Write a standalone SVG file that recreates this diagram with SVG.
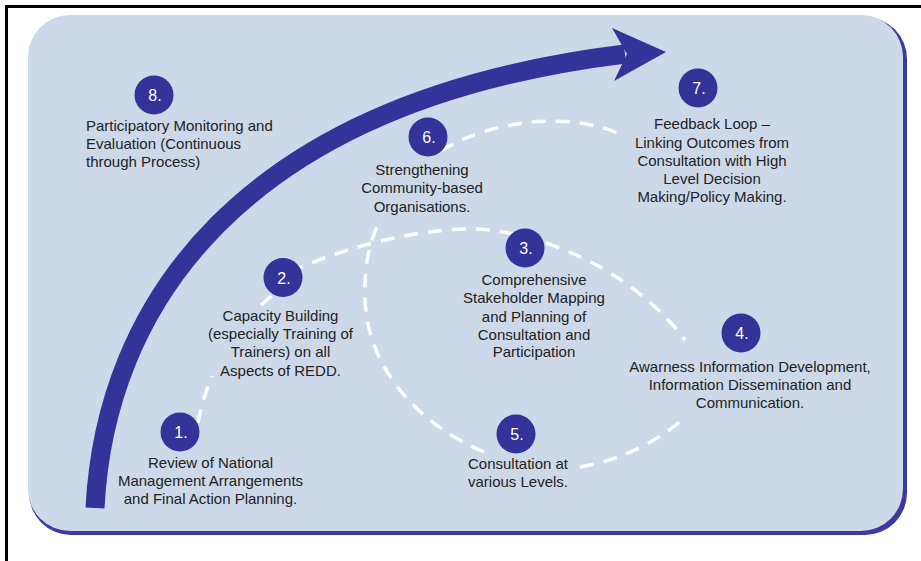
<svg xmlns="http://www.w3.org/2000/svg" width="921" height="561" viewBox="0 0 921 561">
  <style>
    .lbl { font-family: "Liberation Sans", Arial, sans-serif; font-size: 15px; fill: #222222; }
    .ctr { text-anchor: middle; }
    .num { font-family: "Liberation Sans", Arial, sans-serif; font-size: 16px; fill: #ffffff; text-anchor: middle; }
    .dot { fill: #333399; }
    .dash { fill: none; stroke: #ffffff; stroke-width: 3.5; stroke-dasharray: 14 10; }
  </style>
  <rect width="921" height="561" fill="#ffffff"/>
  <path d="M6.5,561 V6.5 H921" fill="none" stroke="#000000" stroke-width="3"/>
  <g id="panel">
    <rect x="29" y="17" width="878" height="518" rx="42" fill="#3a3aa0"/>
    <rect x="28" y="15" width="875" height="516" rx="42" fill="#cdd9e8"/>
  </g>
  <g id="process-arrow">
    <path d="M95,508 C105,310 235,102 625,54" fill="none" stroke="#333399" stroke-width="19"/>
    <polygon points="612,28 666,52 614,81 627,54" fill="#333399"/>
  </g>
  <g id="connectors">
    <path class="dash" d="M198,423 Q202,400 212,376"/>
    <path class="dash" d="M261,305 L276,292"/>
    <path class="dash" d="M290,272 C350,245 420,228 480,229 C560,236 640,280 685,340"/>
    <path class="dash" d="M580,467 C620,460 655,443 682,420"/>
    <path class="dash" d="M484,452 C420,425 368,370 365,300 C364,262 370,240 381,218"/>
    <path class="dash" d="M441,151 C490,120 570,110 625,136"/>
  </g>
  <g id="node-1">
    <circle class="dot" cx="180" cy="432" r="19.5"/>
    <text class="num" x="181" y="438">1.</text>
    <text class="lbl ctr" x="210.5" y="468">Review of National</text>
    <text class="lbl ctr" x="210.5" y="486">Management Arrangements</text>
    <text class="lbl ctr" x="210.5" y="504">and Final Action Planning.</text>
  </g>
  <g id="node-2">
    <circle class="dot" cx="283" cy="277.5" r="19.5"/>
    <text class="num" x="284" y="283.5">2.</text>
    <text class="lbl ctr" x="280.5" y="320.5">Capacity Building</text>
    <text class="lbl ctr" x="280.5" y="339">(especially Training of</text>
    <text class="lbl ctr" x="280.5" y="357">Trainers) on all</text>
    <text class="lbl ctr" x="280.5" y="375.5">Aspects of REDD.</text>
  </g>
  <g id="node-3">
    <circle class="dot" cx="525" cy="248" r="19.5"/>
    <text class="num" x="526" y="254">3.</text>
    <text class="lbl ctr" x="534" y="285">Comprehensive</text>
    <text class="lbl ctr" x="534" y="303">Stakeholder Mapping</text>
    <text class="lbl ctr" x="534" y="321.5">and Planning of</text>
    <text class="lbl ctr" x="534" y="339.5">Consultation and</text>
    <text class="lbl ctr" x="534" y="357">Participation</text>
  </g>
  <g id="node-4">
    <circle class="dot" cx="741" cy="333" r="19.5"/>
    <text class="num" x="742" y="339">4.</text>
    <text class="lbl ctr" x="750" y="372">Awarness Information Development,</text>
    <text class="lbl ctr" x="750" y="390">Information Dissemination and</text>
    <text class="lbl ctr" x="750" y="408">Communication.</text>
  </g>
  <g id="node-5">
    <circle class="dot" cx="516" cy="434" r="19.5"/>
    <text class="num" x="517" y="440">5.</text>
    <text class="lbl ctr" x="518" y="469">Consultation at</text>
    <text class="lbl ctr" x="518" y="487">various Levels.</text>
  </g>
  <g id="node-6">
    <circle class="dot" cx="428" cy="137" r="19.5"/>
    <text class="num" x="429" y="143">6.</text>
    <text class="lbl ctr" x="422" y="174.5">Strengthening</text>
    <text class="lbl ctr" x="422" y="193">Community-based</text>
    <text class="lbl ctr" x="422" y="211.5">Organisations.</text>
  </g>
  <g id="node-7">
    <circle class="dot" cx="698" cy="88" r="19.5"/>
    <text class="num" x="699" y="94">7.</text>
    <text class="lbl ctr" x="712" y="129">Feedback Loop –</text>
    <text class="lbl ctr" x="712" y="147.5">Linking Outcomes from</text>
    <text class="lbl ctr" x="712" y="166">Consultation with High</text>
    <text class="lbl ctr" x="712" y="184">Level Decision</text>
    <text class="lbl ctr" x="712" y="202">Making/Policy Making.</text>
  </g>
  <g id="node-8">
    <circle class="dot" cx="154" cy="95" r="19.5"/>
    <text class="num" x="155" y="101">8.</text>
    <text class="lbl" x="86" y="131">Participatory Monitoring and</text>
    <text class="lbl" x="86" y="149">Evaluation (Continuous</text>
    <text class="lbl" x="86" y="167">through Process)</text>
  </g>
</svg>
